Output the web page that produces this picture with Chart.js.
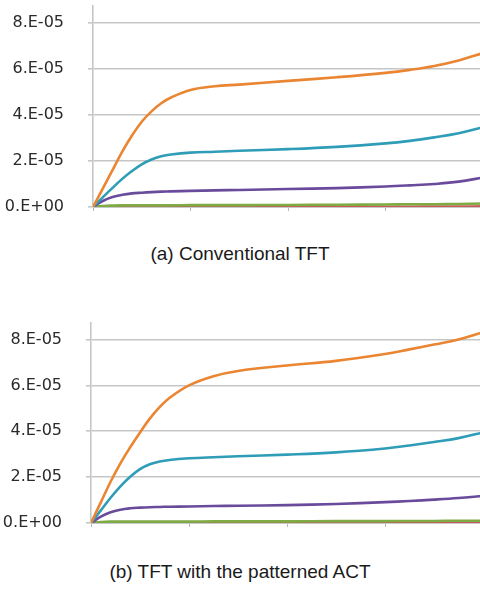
<!DOCTYPE html>
<html>
<head>
<meta charset="utf-8">
<script src="https://cdn.jsdelivr.net/npm/chart.js@4.4.1/dist/chart.umd.min.js"></script>
<style>
    html, body { margin: 0; padding: 0; background: #fff; overflow: hidden; }
    body { width: 480px; height: 597px; position: relative; }
    .panel { position: absolute; left: 0; width: 490px; }
    .caption {
        position: absolute; left: 0; width: 480px; text-align: center;
        font-family: "Liberation Sans", Arial, sans-serif; font-size: 19px; color: #1a1a1a;
    }
</style>
</head>
<body>
<div class="panel" style="top:0; height:220px;"><canvas id="chart-a"></canvas></div>
<div class="caption" style="top:243px;">(a) Conventional TFT</div>
<div class="panel" style="top:317px; height:219px;"><canvas id="chart-b"></canvas></div>
<div class="caption" style="top:561px;">(b) TFT with the patterned ACT</div>

<script>
// x positions (arbitrary units, one tick per unit)
const xVals = [0, 0.1, 0.2, 0.3, 0.4, 0.5, 0.6, 0.7, 0.8, 1.0, 1.25, 1.5, 2.0, 2.5, 3.0, 3.25, 3.5, 3.75, 4.0];

// y values in units of 1e-5
// (a) Conventional TFT
const aOrange = [0, 0.8, 1.6, 2.4, 3.1, 3.7, 4.15, 4.5, 4.75, 5.08, 5.24, 5.31, 5.47, 5.63, 5.82, 5.95, 6.12, 6.36, 6.68];
const aCyan   = [0, 0.42, 0.83, 1.22, 1.56, 1.85, 2.06, 2.2, 2.28, 2.36, 2.4, 2.44, 2.51, 2.61, 2.76, 2.87, 3.02, 3.2, 3.46];
const aPurple = [0, 0.26, 0.43, 0.53, 0.59, 0.62, 0.645, 0.665, 0.68, 0.7, 0.72, 0.74, 0.78, 0.82, 0.89, 0.94, 1.0, 1.1, 1.28];
const aGreen  = [0, 0.04, 0.06, 0.07, 0.07, 0.07, 0.07, 0.07, 0.07, 0.08, 0.08, 0.08, 0.09, 0.1, 0.11, 0.12, 0.12, 0.13, 0.15];
const aRed    = [0, 0, 0, 0, 0, 0, 0, 0, 0, 0, 0, 0, 0, 0, 0.01, 0.01, 0.02, 0.02, 0.03];

// (b) TFT with the patterned ACT
const bOrange = [0, 0.9, 1.8, 2.6, 3.3, 3.95, 4.55, 5.05, 5.45, 6.0, 6.4, 6.63, 6.87, 7.07, 7.37, 7.57, 7.78, 8.0, 8.32];
const bCyan   = [0, 0.55, 1.1, 1.6, 2.02, 2.35, 2.56, 2.68, 2.75, 2.82, 2.87, 2.91, 2.98, 3.08, 3.25, 3.38, 3.53, 3.7, 3.95];
const bPurple = [0, 0.28, 0.47, 0.58, 0.64, 0.67, 0.69, 0.7, 0.71, 0.72, 0.74, 0.75, 0.78, 0.83, 0.91, 0.96, 1.02, 1.09, 1.18];
const bGreen  = [0, 0.04, 0.06, 0.06, 0.06, 0.06, 0.06, 0.06, 0.06, 0.06, 0.07, 0.07, 0.07, 0.08, 0.08, 0.09, 0.09, 0.1, 0.1];
const bRed    = [0, 0, 0, 0, 0, 0, 0, 0, 0, 0, 0, 0, 0, 0, 0, 0, 0, 0.01, 0.01];

const yTicks = [0, 2, 4, 6, 8];
// first dataset ends up drawn on top
const seriesColors = ['#ea8532', '#2f9db7', '#6a4b9b', '#7fab45', '#c85a57'];

function toPoints(vals) {
    return vals.map((v, i) => ({ x: xVals[i], y: v * 1e-5 }));
}

function makeChart(id, series, axisLeft) {
    const datasets = series.map((vals, i) => ({
        data: toPoints(vals),
        borderColor: seriesColors[i],
        borderWidth: 2.6,
        pointRadius: 0,
        fill: false,
        tension: 0.4
    }));

    return new Chart(document.getElementById(id), {
        type: 'line',
        data: { datasets: datasets },
        options: {
            responsive: true,
            maintainAspectRatio: false,
            animation: false,
            layout: { padding: { top: 6, right: 7, left: 0, bottom: 0 } },
            plugins: {
                legend: { display: false },
                tooltip: { enabled: false }
            },
            scales: {
                x: {
                    type: 'linear',
                    min: 0,
                    max: 4,
                    afterFit: scale => { scale.height = 13; },
                    ticks: { stepSize: 1, display: false },
                    grid: { drawOnChartArea: false, tickLength: 4, color: '#b8b8b8', lineWidth: 1 },
                    border: { color: '#c8c8c8', width: 1 }
                },
                y: {
                    min: 0,
                    max: 8.72e-5,
                    afterFit: scale => {
                        scale.width = axisLeft;
                        scale.paddingTop = 0;
                        scale.paddingBottom = 0;
                    },
                    afterBuildTicks: scale => {
                        scale.ticks = yTicks.map(v => ({ value: v * 1e-5 }));
                    },
                    ticks: {
                        padding: 24,
                        color: '#2a2a2a',
                        font: { family: 'DejaVu Sans', size: 16 },
                        callback: v => {
                            const n = Math.round(v * 1e5);
                            return n === 0 ? '0.E+00' : n + '.E-05';
                        }
                    },
                    grid: { color: '#c6c6c6', lineWidth: 1.6, tickLength: 5 },
                    border: { color: '#c6c6c6', width: 1.6 }
                }
            }
        }
    });
}

makeChart('chart-a', [aOrange, aCyan, aPurple, aGreen, aRed], 93);
makeChart('chart-b', [bOrange, bCyan, bPurple, bGreen, bRed], 91);
</script>
</body>
</html>
